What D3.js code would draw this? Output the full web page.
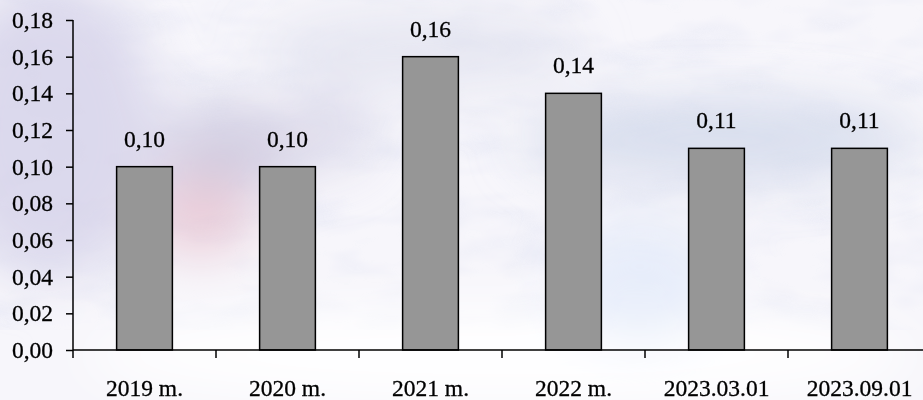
<!DOCTYPE html>
<html>
<head>
<meta charset="utf-8">
<script src="https://cdn.jsdelivr.net/npm/d3@7"></script>
<style>
  body { margin: 0; background: #fff; }
  svg { display: block; }
  text { font-family: "Liberation Serif", "Times New Roman", serif; }
</style>
</head>
<body>
<svg id="chart"></svg>
<script>
const width = 923;
const height = 400;

// Chart data.
const categories = ["2019 m.", "2020 m.", "2021 m.", "2022 m.", "2023.03.01", "2023.09.01"];
const values = [0.10, 0.10, 0.16, 0.14, 0.11, 0.11];
const yTicks = [0, 0.02, 0.04, 0.06, 0.08, 0.10, 0.12, 0.14, 0.16, 0.18];

const fontSize = 23.5;
const fmt = d => d3.format(".2f")(d).replace(".", ",");

const svg = d3.select("#chart")
    .attr("width", width)
    .attr("height", height);

// Faded watercolour background, roughly.
const defs = svg.append("defs");
defs.append("filter").attr("id", "soft")
    .attr("x", "-50%").attr("y", "-50%").attr("width", "200%").attr("height", "200%")
    .append("feGaussianBlur").attr("stdDeviation", 26);

const tex = defs.append("filter").attr("id", "tex");
tex.append("feTurbulence").attr("type", "fractalNoise")
    .attr("baseFrequency", "0.012 0.03").attr("numOctaves", 3).attr("seed", 7);
tex.append("feColorMatrix").attr("type", "matrix")
    .attr("values", "0 0 0 0 0.76  0 0 0 0 0.78  0 0 0 0 0.90  0 0 0 1.4 -0.55");

const bg = svg.append("g");
bg.append("rect").attr("width", width).attr("height", height).attr("fill", "#f7f6fb");
bg.append("rect").attr("width", width).attr("height", 300).attr("filter", "url(#tex)").attr("opacity", 0.7);
const blobs = bg.append("g").attr("filter", "url(#soft)");
blobs.append("ellipse").attr("cx", 50).attr("cy", 130).attr("rx", 110).attr("ry", 150).attr("fill", "#d6d3ea").attr("opacity", 0.85);
blobs.append("ellipse").attr("cx", 230).attr("cy", 150).attr("rx", 70).attr("ry", 45).attr("fill", "#c9c4dc").attr("opacity", 0.8);
blobs.append("ellipse").attr("cx", 200).attr("cy", 215).attr("rx", 55).attr("ry", 40).attr("fill", "#e6bccb").attr("opacity", 0.7);
blobs.append("ellipse").attr("cx", 330).attr("cy", 130).attr("rx", 40).attr("ry", 40).attr("fill", "#d4d2e6").attr("opacity", 0.7);
blobs.append("ellipse").attr("cx", 720).attr("cy", 140).attr("rx", 200).attr("ry", 40).attr("fill", "#d0d7ea").attr("opacity", 0.8);
blobs.append("ellipse").attr("cx", 420).attr("cy", 50).attr("rx", 160).attr("ry", 40).attr("fill", "#e0e1ee").attr("opacity", 0.7);
blobs.append("ellipse").attr("cx", 500).attr("cy", 355).attr("rx", 420).attr("ry", 50).attr("fill", "#ffffff").attr("opacity", 0.9);
blobs.append("ellipse").attr("cx", 640).attr("cy", 280).attr("rx", 80).attr("ry", 60).attr("fill", "#e6ecfa").attr("opacity", 0.9);

// Scales.
const x = d3.scaleBand()
    .domain(categories)
    .range([73, 931])
    .paddingInner(0.61)
    .paddingOuter(0.305);

const y = d3.scaleLinear()
    .domain([0, 0.18])
    .range([350, 20]);

// Bars.
svg.append("g")
    .selectAll("rect")
    .data(values)
    .join("rect")
    .attr("x", (d, i) => x(categories[i]))
    .attr("y", d => y(d))
    .attr("width", x.bandwidth())
    .attr("height", d => y(0) - y(d))
    .attr("fill", "#969696")
    .attr("stroke", "#000")
    .attr("stroke-width", 1.5);

// Value labels.
svg.append("g")
    .selectAll("text")
    .data(values)
    .join("text")
    .attr("x", (d, i) => x(categories[i]) + x.bandwidth() / 2)
    .attr("y", d => y(d) - 20)
    .attr("text-anchor", "middle")
    .attr("font-size", fontSize)
    .attr("fill", "#000")
    .attr("stroke", "#000")
    .attr("stroke-width", 0.3)
    .text(d => fmt(d));

// Y axis.
const yAxis = svg.append("g")
    .attr("transform", "translate(73,0)")
    .call(d3.axisLeft(y).tickValues(yTicks).tickFormat(fmt).tickSize(7).tickPadding(0));
yAxis.select(".domain").attr("stroke-width", 1.5).attr("d", `M0,${y(0.18)}V${y(0)}`);
yAxis.selectAll(".tick line").attr("stroke-width", 1.5);
yAxis.selectAll(".tick text")
    .attr("font-size", fontSize)
    .attr("font-family", null)
    .attr("fill", "#000")
    .attr("stroke", "#000")
    .attr("stroke-width", 0.3)
    .attr("x", -20);

// X axis: ticks between categories.
const edges = categories.map(c => x(c) - x.step() * x.paddingInner() / 2);
const xAxis = svg.append("g").attr("transform", `translate(0,${y(0)})`);
xAxis.append("path")
    .attr("d", `M73,0H931`)
    .attr("stroke", "#000")
    .attr("stroke-width", 1.5);
xAxis.selectAll("line")
    .data(edges)
    .join("line")
    .attr("x1", d => d).attr("x2", d => d)
    .attr("y1", 0).attr("y2", 8)
    .attr("stroke", "#000")
    .attr("stroke-width", 1.5);
xAxis.selectAll("text")
    .data(categories)
    .join("text")
    .attr("x", d => x(d) + x.bandwidth() / 2)
    .attr("y", 46)
    .attr("text-anchor", "middle")
    .attr("font-size", fontSize)
    .attr("fill", "#000")
    .attr("stroke", "#000")
    .attr("stroke-width", 0.3)
    .text(d => d);
</script>
</body>
</html>
